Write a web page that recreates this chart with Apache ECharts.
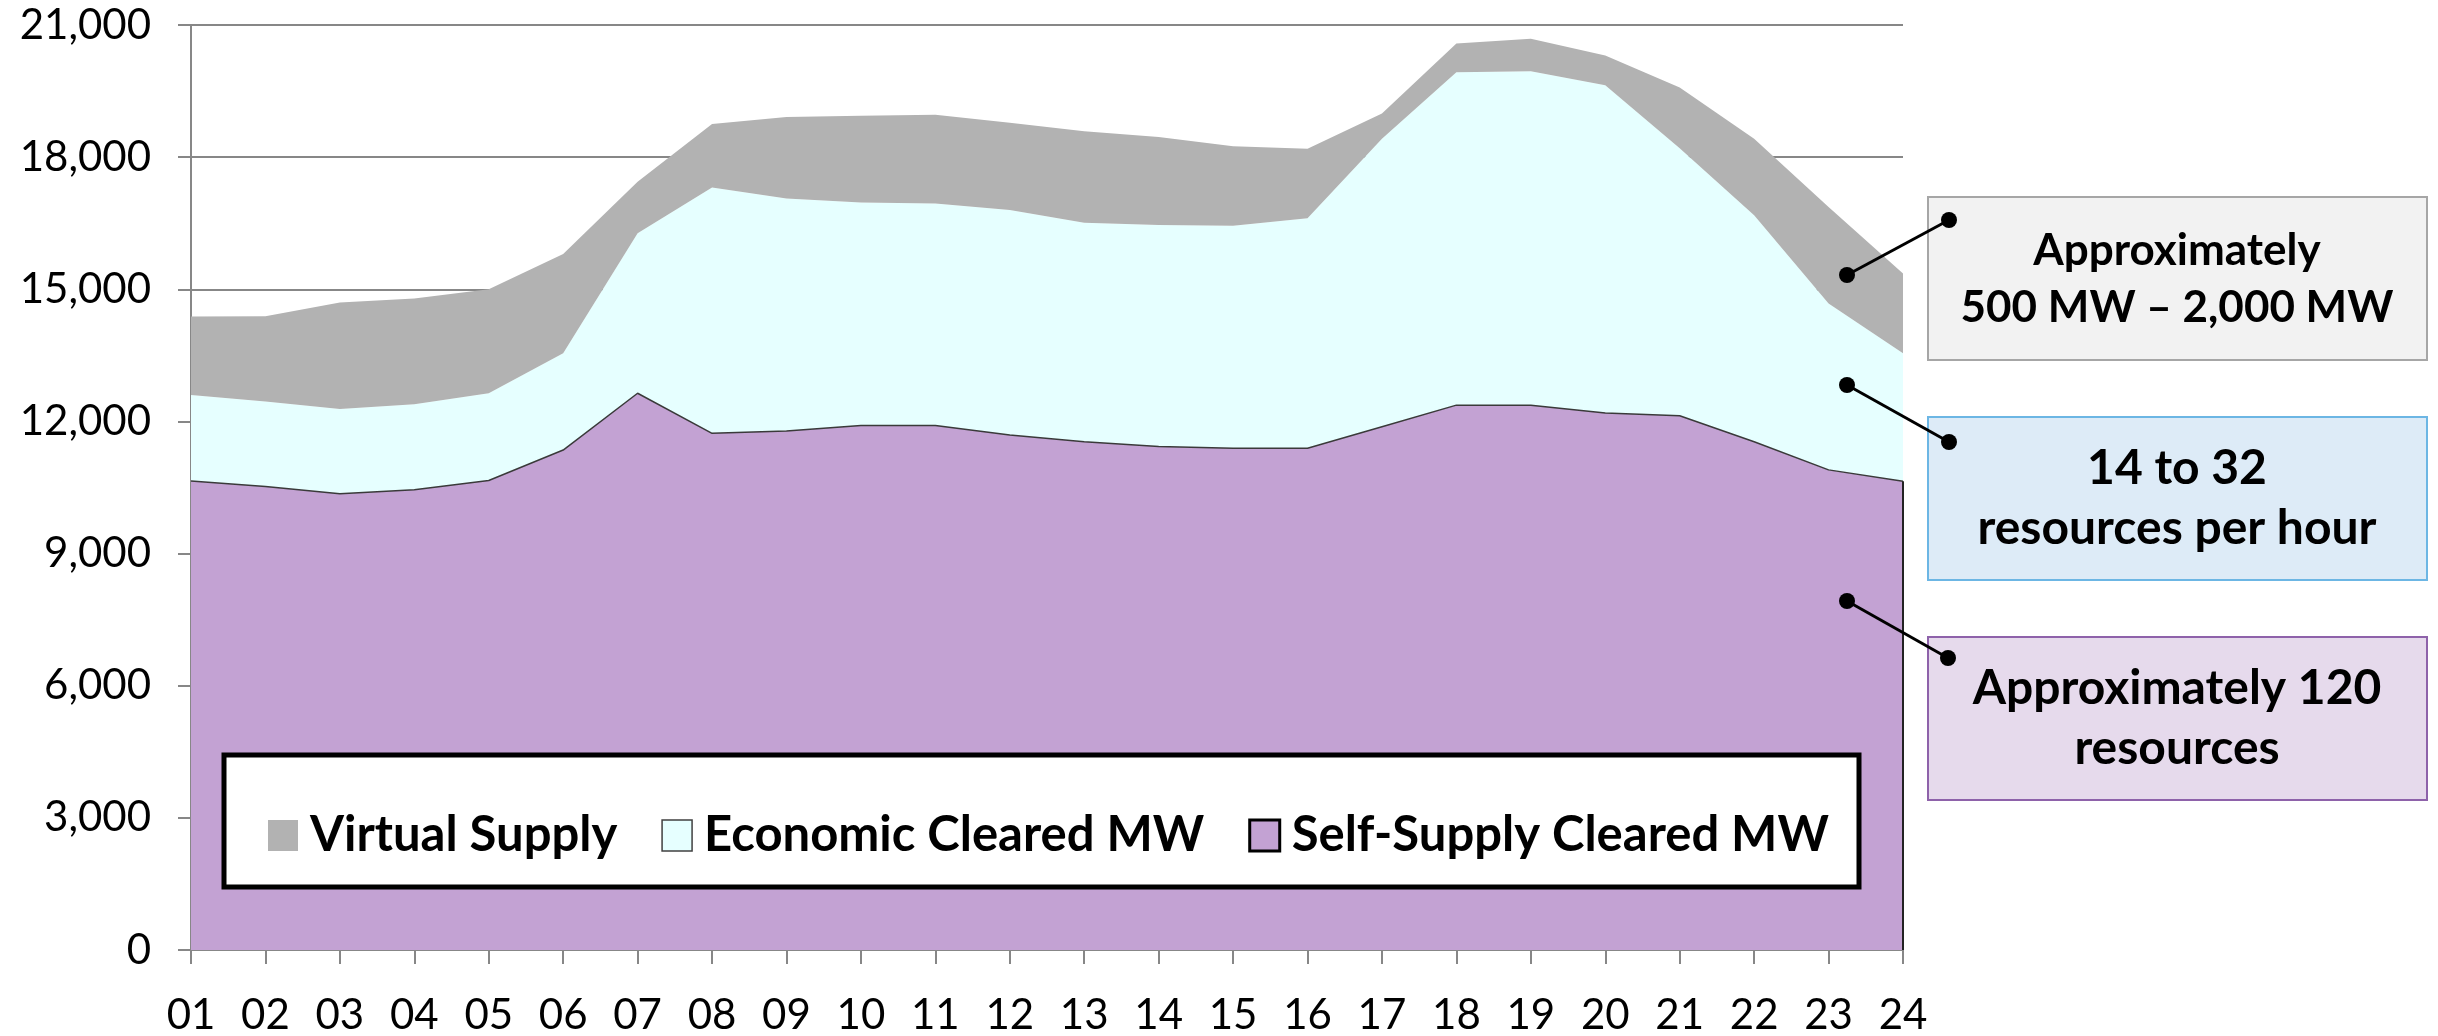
<!DOCTYPE html>
<html>
<head>
<meta charset="utf-8">
<script src="https://cdn.jsdelivr.net/npm/echarts@6/dist/echarts.min.js"></script>
<style>
  html, body { margin: 0; padding: 0; background: #fff; }
  #chart { width: 2438px; height: 1036px; }
</style>
</head>
<body>
<div id="chart"></div>
<script>
// hours of the day
var hours = ['01','02','03','04','05','06','07','08','09','10','11','12',
             '13','14','15','16','17','18','19','20','21','22','23','24'];

// MW, stacked bottom to top
var selfSupply = [10650,10520,10360,10450,10660,11350,12640,11730,11780,11910,11910,11690,
                  11540,11430,11390,11390,11880,12370,12370,12190,12130,11540,10900,10640];
var economic   = [1950,1930,1920,1940,1980,2200,3630,5580,5280,5060,5040,5110,
                  4970,5030,5050,5220,6540,7560,7580,7440,6070,5140,3780,2910];
var virtualSupply = [1780,1940,2420,2400,2360,2250,1170,1440,1850,1970,2010,1980,
                     2080,2000,1810,1580,570,650,740,680,1380,1740,2190,1810];

var yTicks = { min: 0, max: 21000, interval: 3000 };

var notes = [
    { text: 'Approximately\n500 MW \u2013 2,000 MW', size: 44, lh: 57 },
    { text: '14 to 32\nresources per hour', size: 48, lh: 60 },
    { text: 'Approximately 120\nresources', size: 48, lh: 60 }
];

var C = {
    virtual: '#B2B2B2',
    econ: '#E6FFFF',
    self: '#C3A2D3',
    axis: '#878787'
};

var font = 'Lato, "Open Sans", sans-serif';

var chart = echarts.init(document.getElementById('chart'));

// annotation boxes on the right
var boxes = [
    { y: 197, fill: '#F2F2F2', stroke: '#A6A6A6' },
    { y: 417, fill: '#DDEBF7', stroke: '#6CB6E4' },
    { y: 637, fill: '#E6DAEC', stroke: '#8E62AA' }
];
// callout lines: chart end -> box end
var callouts = [
    [1847, 275, 1949, 220],
    [1847, 385, 1949, 442],
    [1847, 601, 1948, 658]
];

// white legend frame
var graphics = [{
    type: 'rect', z: 50,
    shape: { x: 224, y: 755, width: 1635, height: 132 },
    style: { fill: '#fff', stroke: '#000', lineWidth: 5 }
}];

boxes.forEach(function (b, i) {
    graphics.push({
        type: 'rect', z: 50,
        shape: { x: 1928, y: b.y, width: 499, height: 163 },
        style: { fill: b.fill, stroke: b.stroke, lineWidth: 2 }
    });
    graphics.push({
        type: 'text', z: 51,
        x: 2177, y: b.y + 82,
        style: {
            text: notes[i].text,
            font: 'bold ' + notes[i].size + 'px ' + font,
            lineHeight: notes[i].lh,
            fill: '#000',
            align: 'center',
            verticalAlign: 'middle'
        }
    });
});

callouts.forEach(function (c) {
    graphics.push({
        type: 'line', z: 52,
        shape: { x1: c[0], y1: c[1], x2: c[2], y2: c[3] },
        style: { stroke: '#000', lineWidth: 3 }
    });
    graphics.push({ type: 'circle', z: 52, shape: { cx: c[0], cy: c[1], r: 8 }, style: { fill: '#000' } });
    graphics.push({ type: 'circle', z: 52, shape: { cx: c[2], cy: c[3], r: 8 }, style: { fill: '#000' } });
});

var option = {
    backgroundColor: '#fff',
    animation: false,
    grid: { left: 191, right: 535, top: 25, bottom: 86 },
    legend: {
        z: 60,
        left: 268,
        top: 811,
        padding: 0,
        icon: 'rect',
        itemWidth: 30,
        itemHeight: 31,
        itemGap: 44,
        textStyle: { fontFamily: font, fontWeight: 'bold', fontSize: 49, color: '#000', padding: [0, 0, 0, 7] },
        data: [
            { name: 'Virtual Supply', itemStyle: { color: C.virtual, borderWidth: 0 } },
            { name: 'Economic Cleared MW', itemStyle: { color: C.econ, borderColor: '#404040', borderWidth: 1.5 } },
            { name: 'Self-Supply Cleared MW', itemStyle: { color: C.self, borderColor: '#000', borderWidth: 3 } }
        ]
    },
    xAxis: {
        type: 'category',
        data: hours,
        boundaryGap: false,
        axisLine: { lineStyle: { color: C.axis, width: 2 } },
        axisTick: { show: true, length: 14, interval: 0, lineStyle: { color: C.axis, width: 2 } },
        axisLabel: { interval: 0, margin: 44, fontFamily: font, fontSize: 42, color: '#000' }
    },
    yAxis: {
        type: 'value',
        min: yTicks.min,
        max: yTicks.max,
        interval: yTicks.interval,
        axisLine: { show: true, lineStyle: { color: C.axis, width: 2 } },
        axisTick: { show: true, length: 13, lineStyle: { color: C.axis, width: 2 } },
        splitLine: { lineStyle: { color: C.axis, width: 2 } },
        axisLabel: {
            margin: 40, fontFamily: font, fontSize: 42, color: '#000',
            formatter: function (v) { return v.toLocaleString('en-US'); }
        }
    },
    series: [
        {
            name: 'Self-Supply Cleared MW',
            type: 'line', stack: 'mw',
            data: selfSupply,
            showSymbol: false,
            itemStyle: { color: C.self },
            lineStyle: { color: '#3a3a3a', width: 1.5 },
            areaStyle: { color: C.self, opacity: 1 },
            markLine: {
                silent: true, symbol: 'none', label: { show: false },
                lineStyle: { color: '#222', width: 2, type: 'solid' },
                data: [[{ coord: ['24', 0] }, { coord: ['24', selfSupply[23]] }]]
            }
        },
        {
            name: 'Economic Cleared MW',
            type: 'line', stack: 'mw',
            data: economic,
            showSymbol: false,
            itemStyle: { color: C.econ },
            lineStyle: { width: 0 },
            areaStyle: { color: C.econ, opacity: 1 }
        },
        {
            name: 'Virtual Supply',
            type: 'line', stack: 'mw',
            data: virtualSupply,
            showSymbol: false,
            itemStyle: { color: C.virtual },
            lineStyle: { width: 0 },
            areaStyle: { color: C.virtual, opacity: 1 }
        }
    ],
    graphic: graphics
};

chart.setOption(option);
</script>
</body>
</html>
